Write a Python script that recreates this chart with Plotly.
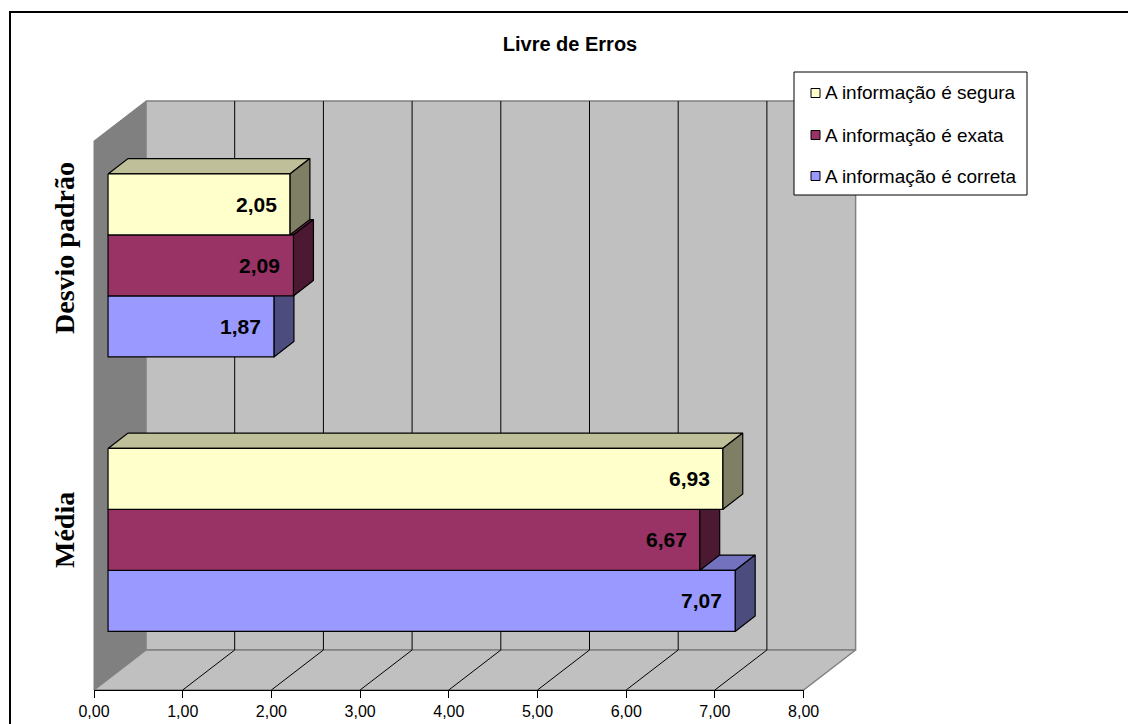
import plotly.graph_objects as go

# ---- data ----
categories = ["Média", "Desvio padrão"]
series_names = ["A informação é segura", "A informação é exata", "A informação é correta"]
segura = [6.93, 2.05]
exata = [6.67, 2.09]
correta = [7.07, 1.87]
value_ticks = [0, 1, 2, 3, 4, 5, 6, 7, 8]
chart_title = "Livre de Erros"

series_values = [segura, exata, correta]
front_colors = ["#FFFFCC", "#993366", "#9999FF"]

# ---- layout geometry (pixels) ----
W, H = 1128, 724
X0_PX = 94.0            # value 0 on the front plane
PX_PER_UNIT = 88.7      # pixels per value unit
FLOOR_Y = 690.0         # front edge of the floor
WALL_TOP_Y = 141.0      # top of the walls on the front plane
DEPTH_DX = 52.0         # oblique depth offset (px)
DEPTH_DY = -40.0
BAR_D0, BAR_D1 = 0.27, 0.655   # bar depth extent (fraction of full depth)
N_CAT = len(categories)
CAT_STEP = (FLOOR_Y - WALL_TOP_Y) / N_CAT
BAR_H = CAT_STEP / 1.5 / len(series_names)
CAT_LABEL_Y = [530, 248]        # centres of the rotated category labels
CAT_LABEL_X = 64


def proj(v, y, d):
    """Oblique projection of (value, front-plane y, depth) into drawing coords."""
    return v + d * DEPTH_DX / PX_PER_UNIT, y + d * DEPTH_DY


def shade(hex_color, f):
    h = hex_color.lstrip("#")
    r, g, b = (int(h[i:i + 2], 16) for i in (0, 2, 4))
    return "#{:02X}{:02X}{:02X}".format(int(r * f), int(g * f), int(b * f))


def poly(points, fill, line_color="black", line_width=1.2):
    xs = [p[0] for p in points] + [points[0][0]]
    ys = [p[1] for p in points] + [points[0][1]]
    return go.Scatter(x=xs, y=ys, mode="lines", fill="toself", fillcolor=fill,
                      line=dict(color=line_color, width=line_width),
                      hoverinfo="skip", showlegend=False)


def seg(p, q, color="black", width=1):
    return go.Scatter(x=[p[0], q[0]], y=[p[1], q[1]], mode="lines",
                      line=dict(color=color, width=width),
                      hoverinfo="skip", showlegend=False)


traces = []
vmax = value_ticks[-1]

# walls and floor
traces.append(poly([proj(0, WALL_TOP_Y, 0), proj(0, WALL_TOP_Y, 1),
                    proj(0, FLOOR_Y, 1), proj(0, FLOOR_Y, 0)],
                   "#808080", "#808080", 1))
traces.append(poly([proj(0, WALL_TOP_Y, 1), proj(vmax, WALL_TOP_Y, 1),
                    proj(vmax, FLOOR_Y, 1), proj(0, FLOOR_Y, 1)],
                   "#C0C0C0", "#808080", 1.5))
traces.append(poly([proj(0, FLOOR_Y, 0), proj(vmax, FLOOR_Y, 0),
                    proj(vmax, FLOOR_Y, 1), proj(0, FLOOR_Y, 1)],
                   "#C0C0C0", "#808080", 1.5))
for t in value_ticks[1:-1]:
    traces.append(seg(proj(t, WALL_TOP_Y, 1), proj(t, FLOOR_Y, 1)))
    traces.append(seg(proj(t, FLOOR_Y, 0), proj(t, FLOOR_Y, 1)))

# bars: lower series first so upper bars hide their top faces
annotations = []
for k in range(N_CAT):
    band_top = FLOOR_Y - (k + 1) * CAT_STEP + (CAT_STEP - 3 * BAR_H) / 2 - 2
    for j in reversed(range(len(series_names))):
        v = series_values[j][k]
        yt = band_top + j * BAR_H
        yb = yt + BAR_H
        col = front_colors[j]
        traces.append(poly([proj(0, yt, BAR_D0), proj(v, yt, BAR_D0),
                            proj(v, yt, BAR_D1), proj(0, yt, BAR_D1)], shade(col, 0.75)))
        traces.append(poly([proj(v, yt, BAR_D0), proj(v, yt, BAR_D1),
                            proj(v, yb, BAR_D1), proj(v, yb, BAR_D0)], shade(col, 0.5)))
        traces.append(poly([proj(0, yt, BAR_D0), proj(v, yt, BAR_D0),
                            proj(v, yb, BAR_D0), proj(0, yb, BAR_D0)], col))
        lx, ly = proj(v, (yt + yb) / 2, BAR_D0)
        annotations.append(dict(
            x=lx - 11 / PX_PER_UNIT, y=ly, xref="x", yref="y",
            text="<b>{}</b>".format(f"{v:.2f}".replace(".", ",")),
            showarrow=False, xanchor="right", yanchor="middle",
            font=dict(family="Arial, Liberation Sans", size=21, color="black")))
    annotations.append(dict(
        x=CAT_LABEL_X / W, y=1 - CAT_LABEL_Y[k] / H, xref="paper", yref="paper",
        text="<b>{}</b>".format(categories[k]), textangle=-90,
        showarrow=False, xanchor="center", yanchor="middle",
        font=dict(family="Times New Roman, Liberation Serif", size=28, color="black")))

# legend (drawn manually)
LEG_X0, LEG_X1, LEG_Y0, LEG_Y1 = 794, 1027, 72, 195
leg_rows = [93, 135, 176]
shapes = [dict(type="rect", xref="paper", yref="paper",
               x0=LEG_X0 / W, x1=LEG_X1 / W, y0=1 - LEG_Y1 / H, y1=1 - LEG_Y0 / H,
               line=dict(color="black", width=1), fillcolor="white", layer="above")]
for name, col, ry in zip(series_names, front_colors, leg_rows):
    shapes.append(dict(type="rect", xref="paper", yref="paper",
                       x0=811 / W, x1=820 / W, y0=1 - (ry + 4.5) / H, y1=1 - (ry - 4.5) / H,
                       line=dict(color="black", width=1), fillcolor=col, layer="above"))
    annotations.append(dict(x=823 / W, y=1 - ry / H, xref="paper", yref="paper",
                            text=name, showarrow=False, xanchor="left", yanchor="middle",
                            font=dict(family="Arial, Liberation Sans", size=19, color="black")))

# outer frame
shapes.append(dict(type="rect", xref="paper", yref="paper",
                   x0=10 / W, y0=-0.05, x1=1.05, y1=1 - 12 / H,
                   line=dict(color="black", width=2), layer="above"))

# value axis carrier trace
traces.append(go.Scatter(x=value_ticks, y=[0] * len(value_ticks), mode="none",
                         xaxis="x2", yaxis="y2", hoverinfo="skip", showlegend=False))

fig = go.Figure(data=traces)
fig.update_layout(
    width=W, height=H, autosize=False,
    margin=dict(l=0, r=0, t=0, b=0, pad=0, autoexpand=False),
    paper_bgcolor="white", plot_bgcolor="rgba(0,0,0,0)",
    separators=",.",
    showlegend=False,
    title=dict(text="<b>{}</b>".format(chart_title), x=570 / W, y=1 - 44 / H,
               xanchor="center", yanchor="middle", automargin=False,
               font=dict(family="Arial, Liberation Sans", size=20, color="black")),
    xaxis=dict(range=[-X0_PX / PX_PER_UNIT, (W - X0_PX) / PX_PER_UNIT],
               visible=False, domain=[0, 1], automargin=False),
    yaxis=dict(range=[H, 0], visible=False, domain=[0, 1], automargin=False),
    xaxis2=dict(domain=[X0_PX / W, (X0_PX + vmax * PX_PER_UNIT) / W],
                range=[0, vmax], anchor="y2", automargin=False,
                showline=True, linecolor="black", linewidth=1,
                ticks="outside", ticklen=7, tickwidth=1, tickcolor="black",
                tickvals=value_ticks, tickformat=".2f",
                showgrid=False, zeroline=False,
                tickfont=dict(family="Arial, Liberation Sans", size=16, color="black")),
    yaxis2=dict(domain=[(H - FLOOR_Y) / H, (H - FLOOR_Y + 5) / H],
                range=[0, 1], visible=False, anchor="x2", automargin=False),
    annotations=annotations,
    shapes=shapes,
)

fig.write_html("out.html")
